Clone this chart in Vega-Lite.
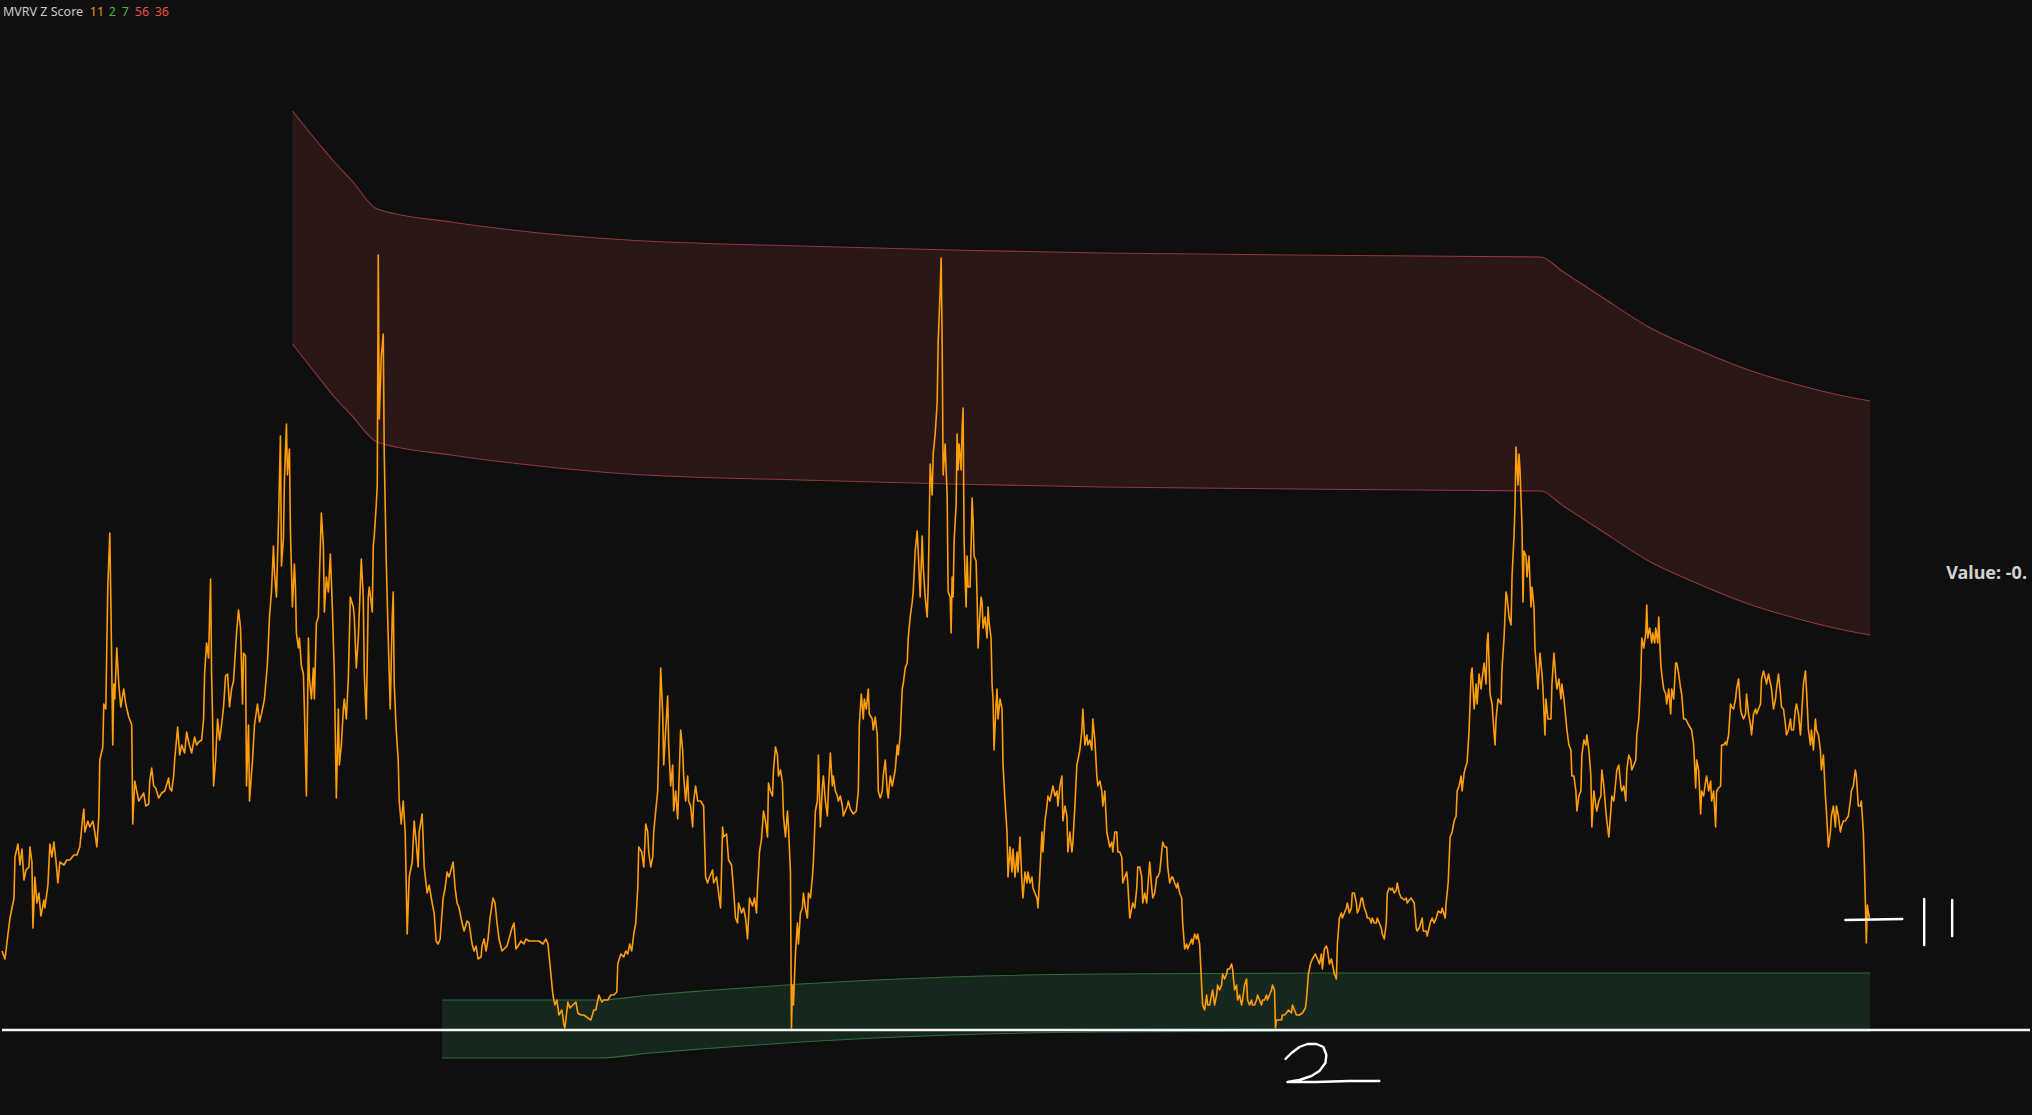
{
"$schema":"https://vega.github.io/schema/vega-lite/v6.json",
"width":2032,"height":1115,
"autosize":{"type":"fit","contains":"padding"},
"padding":0,
"background":"#0f0f0f",
"config":{"view":{"stroke":null}},
"datasets":{
"red":[{"t":291,"hi":919,"lo":686},{"t":317,"hi":887,"lo":653},{"t":333,"hi":868,"lo":633},{"t":350,"hi":850,"lo":615},{"t":376,"hi":821,"lo":588},{"t":450,"hi":808,"lo":575},{"t":520,"hi":799,"lo":566},{"t":627,"hi":790,"lo":556},{"t":800,"hi":784,"lo":550},{"t":950,"hi":780,"lo":546},{"t":1100,"hi":777,"lo":543},{"t":1420,"hi":774,"lo":540},{"t":1542,"hi":773,"lo":539},{"t":1563,"hi":759,"lo":525},{"t":1600,"hi":735,"lo":501},{"t":1650,"hi":703,"lo":469},{"t":1700,"hi":680,"lo":446},{"t":1750,"hi":660,"lo":426},{"t":1800,"hi":645,"lo":411},{"t":1850,"hi":633,"lo":399},{"t":1872,"hi":629,"lo":395}],
"green":[{"t":441,"hi":30,"lo":-28},{"t":597,"hi":30,"lo":-28},{"t":650,"hi":35,"lo":-23},{"t":700,"hi":39,"lo":-19},{"t":800,"hi":46,"lo":-12},{"t":950,"hi":53,"lo":-5},{"t":1100,"hi":56,"lo":-2},{"t":1320,"hi":57,"lo":-1},{"t":1872,"hi":57,"lo":-1}],
"ink":[{"s":"two","i":0,"t":1286,"v":-29},{"s":"two","i":1,"t":1292,"v":-23},{"s":"two","i":2,"t":1300,"v":-17},{"s":"two","i":3,"t":1308,"v":-14},{"s":"two","i":4,"t":1317,"v":-14},{"s":"two","i":5,"t":1324,"v":-17},{"s":"two","i":6,"t":1327,"v":-25},{"s":"two","i":7,"t":1326,"v":-33},{"s":"two","i":8,"t":1320,"v":-41},{"s":"two","i":9,"t":1312,"v":-46},{"s":"two","i":10,"t":1300,"v":-50},{"s":"two","i":11,"t":1288,"v":-52},{"s":"two","i":12,"t":1317,"v":-52},{"s":"two","i":13,"t":1350,"v":-51},{"s":"two","i":14,"t":1380,"v":-51},{"s":"dash","i":0,"t":1847,"v":110},{"s":"dash","i":1,"t":1904,"v":111},{"s":"bar1","i":0,"t":1926,"v":131},{"s":"bar1","i":1,"t":1926,"v":85},{"s":"bar2","i":0,"t":1954,"v":130},{"s":"bar2","i":1,"t":1954,"v":94}],
"head":[{"label":"MVRV Z Score","t":1,"v":1014,"role":"name"},{"label":"11","t":88,"v":1014,"role":"len"},{"label":"2","t":107,"v":1014,"role":"lowA"},{"label":"7","t":120,"v":1014,"role":"lowB"},{"label":"56","t":133,"v":1014,"role":"highA"},{"label":"36","t":153,"v":1014,"role":"highB"}],
"z":[{"t":0,"v":79},{"t":3,"v":71},{"t":6,"v":96},{"t":8,"v":112},{"t":12,"v":132},{"t":13,"v":173},{"t":16,"v":186},{"t":18,"v":165},{"t":20,"v":181},{"t":22,"v":150},
{"t":24,"v":160},{"t":27,"v":163},{"t":28,"v":183},{"t":30,"v":168},{"t":31,"v":102},{"t":33,"v":153},{"t":35,"v":127},{"t":37,"v":137},{"t":39,"v":114},{"t":42,"v":130},
{"t":43,"v":122},{"t":46,"v":145},{"t":48,"v":186},{"t":50,"v":173},{"t":52,"v":188},{"t":54,"v":170},{"t":56,"v":147},{"t":58,"v":168},{"t":62,"v":165},{"t":65,"v":170},
{"t":68,"v":170},{"t":72,"v":175},{"t":75,"v":175},{"t":78,"v":183},{"t":81,"v":214},{"t":82,"v":221},{"t":83,"v":198},{"t":86,"v":209},{"t":88,"v":203},{"t":91,"v":209},
{"t":93,"v":198},{"t":95,"v":183},{"t":97,"v":214},{"t":98,"v":270},{"t":101,"v":283},{"t":102,"v":326},{"t":104,"v":321},{"t":106,"v":443},{"t":108,"v":497},{"t":109,"v":433},
{"t":111,"v":285},{"t":112,"v":346},{"t":113,"v":331},{"t":115,"v":382},{"t":117,"v":346},{"t":119,"v":323},{"t":122,"v":341},{"t":124,"v":326},{"t":127,"v":313},{"t":130,"v":305},
{"t":131,"v":206},{"t":133,"v":249},{"t":135,"v":239},{"t":137,"v":229},{"t":139,"v":232},{"t":142,"v":237},{"t":144,"v":224},{"t":147,"v":226},{"t":148,"v":249},{"t":150,"v":262},
{"t":152,"v":244},{"t":154,"v":242},{"t":157,"v":232},{"t":160,"v":237},{"t":163,"v":239},{"t":167,"v":252},{"t":168,"v":242},{"t":170,"v":239},{"t":172,"v":254},{"t":173,"v":270},
{"t":176,"v":303},{"t":178,"v":275},{"t":180,"v":285},{"t":183,"v":277},{"t":185,"v":298},{"t":187,"v":288},{"t":190,"v":277},{"t":193,"v":293},{"t":195,"v":285},{"t":197,"v":288},
{"t":200,"v":290},{"t":202,"v":311},{"t":203,"v":356},{"t":205,"v":387},{"t":207,"v":372},{"t":208,"v":413},{"t":209,"v":451},{"t":210,"v":356},{"t":211,"v":311},{"t":212,"v":244},
{"t":214,"v":270},{"t":216,"v":311},{"t":218,"v":290},{"t":220,"v":305},{"t":222,"v":323},{"t":224,"v":354},{"t":226,"v":356},{"t":228,"v":323},{"t":230,"v":341},{"t":232,"v":349},
{"t":235,"v":397},{"t":237,"v":420},{"t":239,"v":402},{"t":241,"v":326},{"t":242,"v":377},{"t":244,"v":374},{"t":245,"v":244},{"t":247,"v":305},{"t":248,"v":229},{"t":251,"v":270},
{"t":253,"v":305},{"t":256,"v":326},{"t":258,"v":308},{"t":260,"v":316},{"t":263,"v":331},{"t":266,"v":367},{"t":268,"v":413},{"t":270,"v":438},{"t":272,"v":484},{"t":273,"v":458},
{"t":275,"v":433},{"t":277,"v":507},{"t":279,"v":594},{"t":280,"v":464},{"t":282,"v":492},{"t":283,"v":550},{"t":285,"v":606},{"t":286,"v":555},{"t":288,"v":581},{"t":289,"v":499},
{"t":291,"v":423},{"t":293,"v":466},{"t":294,"v":443},{"t":295,"v":397},{"t":297,"v":382},{"t":298,"v":392},{"t":300,"v":364},{"t":302,"v":356},{"t":303,"v":321},{"t":305,"v":234},
{"t":307,"v":392},{"t":308,"v":351},{"t":310,"v":331},{"t":312,"v":362},{"t":313,"v":331},{"t":315,"v":407},{"t":317,"v":413},{"t":318,"v":453},{"t":320,"v":517},{"t":322,"v":484},
{"t":323,"v":418},{"t":325,"v":453},{"t":327,"v":438},{"t":329,"v":476},{"t":331,"v":423},{"t":333,"v":356},{"t":335,"v":232},{"t":337,"v":321},{"t":338,"v":265},{"t":340,"v":285},
{"t":342,"v":321},{"t":343,"v":331},{"t":345,"v":311},{"t":347,"v":351},{"t":349,"v":433},{"t":352,"v":423},{"t":353,"v":413},{"t":355,"v":362},{"t":357,"v":392},{"t":360,"v":471},
{"t":362,"v":433},{"t":363,"v":356},{"t":365,"v":311},{"t":367,"v":433},{"t":368,"v":443},{"t":371,"v":418},{"t":372,"v":484},{"t":373,"v":494},{"t":375,"v":525},{"t":376,"v":545},
{"t":377,"v":775},{"t":378,"v":611},{"t":380,"v":673},{"t":382,"v":696},{"t":383,"v":576},{"t":385,"v":469},{"t":387,"v":392},{"t":388,"v":356},{"t":389,"v":321},{"t":391,"v":413},
{"t":392,"v":438},{"t":393,"v":346},{"t":395,"v":300},{"t":397,"v":270},{"t":398,"v":229},{"t":400,"v":206},{"t":402,"v":229},{"t":404,"v":198},{"t":406,"v":96},{"t":408,"v":153},
{"t":411,"v":168},{"t":413,"v":209},{"t":415,"v":188},{"t":417,"v":163},{"t":418,"v":198},{"t":421,"v":216},{"t":423,"v":163},{"t":426,"v":137},{"t":428,"v":145},{"t":431,"v":127},
{"t":433,"v":117},{"t":435,"v":89},{"t":437,"v":86},{"t":439,"v":91},{"t":442,"v":132},{"t":444,"v":142},{"t":446,"v":158},{"t":448,"v":153},{"t":452,"v":168},{"t":454,"v":142},
{"t":456,"v":127},{"t":458,"v":122},{"t":461,"v":107},{"t":463,"v":99},{"t":466,"v":109},{"t":468,"v":107},{"t":471,"v":86},{"t":473,"v":79},{"t":475,"v":84},{"t":477,"v":71},
{"t":480,"v":73},
{"t":481,"v":84},{"t":483,"v":91},{"t":485,"v":79},{"t":487,"v":91},{"t":489,"v":112},{"t":492,"v":132},{"t":494,"v":127},{"t":496,"v":107},{"t":498,"v":91},{"t":501,"v":79},
{"t":503,"v":81},{"t":506,"v":84},{"t":508,"v":91},{"t":511,"v":102},{"t":513,"v":107},{"t":515,"v":81},{"t":517,"v":84},{"t":520,"v":89},{"t":523,"v":86},{"t":525,"v":91},
{"t":528,"v":89},{"t":532,"v":89},{"t":535,"v":89},{"t":538,"v":89},{"t":542,"v":86},{"t":545,"v":91},{"t":547,"v":86},{"t":549,"v":66},{"t":552,"v":35},{"t":554,"v":25},
{"t":556,"v":30},{"t":558,"v":15},{"t":561,"v":20},{"t":563,"v":5},{"t":564,"v":2},{"t":567,"v":28},{"t":569,"v":22},{"t":572,"v":25},{"t":575,"v":28},{"t":577,"v":17},
{"t":580,"v":15},{"t":583,"v":15},{"t":587,"v":12},{"t":590,"v":10},{"t":593,"v":20},{"t":595,"v":20},{"t":598,"v":35},{"t":601,"v":28},{"t":603,"v":30},{"t":607,"v":30},
{"t":610,"v":35},{"t":613,"v":35},{"t":616,"v":38},{"t":617,"v":66},{"t":620,"v":76},{"t":623,"v":73},{"t":625,"v":79},{"t":627,"v":76},{"t":629,"v":86},{"t":631,"v":79},
{"t":633,"v":96},{"t":635,"v":107},{"t":637,"v":142},{"t":638,"v":183},{"t":641,"v":178},{"t":643,"v":163},{"t":644,"v":183},{"t":645,"v":206},{"t":647,"v":198},{"t":648,"v":178},
{"t":650,"v":163},{"t":652,"v":173},{"t":653,"v":198},{"t":655,"v":219},{"t":657,"v":239},{"t":658,"v":280},{"t":660,"v":362},{"t":662,"v":316},{"t":663,"v":265},{"t":665,"v":300},
{"t":667,"v":334},{"t":668,"v":285},{"t":670,"v":244},{"t":672,"v":265},{"t":673,"v":219},{"t":675,"v":239},{"t":677,"v":211},{"t":678,"v":239},{"t":680,"v":300},{"t":682,"v":280},
{"t":683,"v":254},{"t":685,"v":229},{"t":687,"v":254},{"t":688,"v":229},{"t":690,"v":224},{"t":692,"v":203},{"t":693,"v":229},{"t":695,"v":244},{"t":697,"v":229},{"t":700,"v":229},
{"t":703,"v":224},{"t":705,"v":153},{"t":707,"v":147},{"t":709,"v":153},{"t":712,"v":160},{"t":713,"v":147},{"t":716,"v":153},{"t":718,"v":137},{"t":720,"v":122},{"t":722,"v":203},
{"t":723,"v":193},{"t":726,"v":196},{"t":728,"v":170},{"t":731,"v":165},{"t":733,"v":140},{"t":735,"v":112},{"t":737,"v":107},{"t":738,"v":127},{"t":741,"v":117},{"t":743,"v":122},
{"t":745,"v":112},{"t":747,"v":91},{"t":749,"v":132},{"t":752,"v":124},{"t":754,"v":132},{"t":756,"v":117},{"t":757,"v":142},{"t":759,"v":178},{"t":761,"v":191},{"t":763,"v":219},
{"t":765,"v":209},{"t":767,"v":193},{"t":768,"v":247},{"t":770,"v":239},{"t":772,"v":234},{"t":773,"v":260},{"t":775,"v":283},{"t":777,"v":275},{"t":778,"v":254},{"t":780,"v":260},
{"t":782,"v":247},{"t":783,"v":214},{"t":785,"v":193},{"t":787,"v":219},{"t":788,"v":203},{"t":790,"v":158},{"t":791,"v":2},{"t":792,"v":45},{"t":793,"v":25},{"t":795,"v":76},
{"t":797,"v":107},{"t":798,"v":86},{"t":800,"v":117},{"t":802,"v":122},{"t":803,"v":137},{"t":805,"v":122},{"t":807,"v":112},{"t":808,"v":137},{"t":810,"v":132},{"t":812,"v":153},
{"t":813,"v":168},{"t":815,"v":219},{"t":817,"v":229},{"t":818,"v":275},{"t":820,"v":203},{"t":822,"v":244},{"t":823,"v":254},{"t":825,"v":229},{"t":827,"v":214},{"t":828,"v":239},
{"t":830,"v":277},{"t":832,"v":244},{"t":833,"v":254},{"t":835,"v":239},{"t":837,"v":234},{"t":838,"v":229},{"t":840,"v":234},{"t":842,"v":224},{"t":843,"v":214},{"t":845,"v":219},
{"t":847,"v":224},{"t":848,"v":229},{"t":850,"v":221},{"t":853,"v":216},{"t":856,"v":219},{"t":858,"v":239},{"t":859,"v":305},{"t":861,"v":336},{"t":863,"v":311},{"t":864,"v":331},
{"t":866,"v":321},{"t":868,"v":341},{"t":869,"v":316},{"t":872,"v":311},{"t":873,"v":300},{"t":875,"v":313},{"t":877,"v":295},{"t":878,"v":239},{"t":880,"v":232},{"t":882,"v":239},
{"t":883,"v":254},{"t":885,"v":270},{"t":887,"v":239},{"t":888,"v":232},{"t":890,"v":254},{"t":892,"v":244},{"t":893,"v":249},{"t":895,"v":260},{"t":897,"v":285},{"t":898,"v":275},
{"t":900,"v":295},{"t":902,"v":341},{"t":903,"v":346},{"t":905,"v":362},{"t":907,"v":367},{"t":908,"v":392},{"t":910,"v":413},{"t":912,"v":428},{"t":913,"v":438},{"t":915,"v":479},
{"t":917,"v":499},{"t":918,"v":479},{"t":920,"v":433},{"t":922,"v":494},{"t":923,"v":464},{"t":925,"v":433},{"t":927,"v":413},{"t":928,"v":443},{"t":930,"v":566},{"t":932,"v":535},
{"t":933,"v":576},{"t":935,"v":596},{"t":937,"v":627},{"t":938,"v":688},{"t":940,"v":739},{"t":941,"v":772},{"t":942,"v":688},{"t":943,"v":555},{"t":945,"v":586},{"t":947,"v":535},
{"t":948,"v":438},{"t":950,"v":433},
{"t":951,"v":397},{"t":952,"v":453},{"t":953,"v":433},{"t":954,"v":489},{"t":956,"v":525},{"t":957,"v":596},{"t":958,"v":560},{"t":959,"v":586},{"t":961,"v":560},{"t":962,"v":601},
{"t":963,"v":622},{"t":964,"v":489},{"t":965,"v":453},{"t":966,"v":423},{"t":967,"v":474},{"t":968,"v":443},{"t":970,"v":443},{"t":971,"v":484},{"t":972,"v":532},{"t":973,"v":510},
{"t":974,"v":474},{"t":976,"v":469},{"t":977,"v":433},{"t":978,"v":382},{"t":979,"v":402},{"t":981,"v":433},{"t":982,"v":428},{"t":983,"v":402},{"t":985,"v":413},{"t":987,"v":392},
{"t":988,"v":423},{"t":989,"v":408},{"t":991,"v":392},{"t":992,"v":346},{"t":993,"v":331},{"t":994,"v":280},{"t":996,"v":326},{"t":997,"v":341},{"t":998,"v":311},{"t":1000,"v":331},
{"t":1002,"v":321},{"t":1003,"v":265},{"t":1005,"v":229},{"t":1007,"v":198},{"t":1008,"v":153},{"t":1010,"v":183},{"t":1012,"v":158},{"t":1013,"v":181},{"t":1015,"v":153},{"t":1017,"v":178},
{"t":1018,"v":158},{"t":1020,"v":193},{"t":1022,"v":147},{"t":1023,"v":132},{"t":1025,"v":158},{"t":1027,"v":147},{"t":1028,"v":158},{"t":1030,"v":147},{"t":1032,"v":153},{"t":1033,"v":142},
{"t":1035,"v":137},{"t":1037,"v":132},{"t":1038,"v":122},{"t":1040,"v":158},{"t":1042,"v":198},{"t":1043,"v":178},{"t":1045,"v":209},{"t":1047,"v":224},{"t":1048,"v":234},{"t":1050,"v":229},
{"t":1052,"v":239},{"t":1053,"v":244},{"t":1055,"v":234},{"t":1057,"v":239},{"t":1058,"v":224},{"t":1060,"v":244},{"t":1062,"v":254},{"t":1063,"v":209},{"t":1065,"v":224},{"t":1067,"v":214},
{"t":1068,"v":178},{"t":1070,"v":198},{"t":1072,"v":178},{"t":1073,"v":188},{"t":1075,"v":224},{"t":1077,"v":265},{"t":1078,"v":270},{"t":1080,"v":280},{"t":1082,"v":300},{"t":1083,"v":321},
{"t":1085,"v":285},{"t":1087,"v":295},{"t":1088,"v":285},{"t":1090,"v":290},{"t":1092,"v":280},{"t":1093,"v":311},{"t":1095,"v":290},{"t":1097,"v":254},{"t":1098,"v":244},{"t":1100,"v":249},
{"t":1102,"v":239},{"t":1103,"v":224},{"t":1105,"v":239},{"t":1107,"v":198},{"t":1108,"v":193},{"t":1110,"v":183},{"t":1112,"v":188},{"t":1113,"v":178},{"t":1115,"v":198},{"t":1117,"v":198},
{"t":1118,"v":178},{"t":1120,"v":178},{"t":1122,"v":173},{"t":1123,"v":147},{"t":1125,"v":153},{"t":1127,"v":158},{"t":1128,"v":147},{"t":1130,"v":112},{"t":1132,"v":122},{"t":1133,"v":127},
{"t":1135,"v":122},{"t":1137,"v":142},{"t":1138,"v":163},{"t":1140,"v":163},{"t":1142,"v":153},{"t":1143,"v":127},{"t":1145,"v":137},{"t":1147,"v":127},{"t":1148,"v":142},{"t":1150,"v":168},
{"t":1152,"v":142},{"t":1153,"v":132},{"t":1155,"v":137},{"t":1157,"v":153},{"t":1158,"v":153},{"t":1160,"v":158},{"t":1162,"v":178},{"t":1163,"v":188},{"t":1165,"v":183},{"t":1167,"v":183},
{"t":1168,"v":163},{"t":1170,"v":147},{"t":1172,"v":153},{"t":1173,"v":153},{"t":1175,"v":147},{"t":1177,"v":142},{"t":1178,"v":147},{"t":1180,"v":137},{"t":1182,"v":132},{"t":1183,"v":107},
{"t":1185,"v":81},{"t":1187,"v":86},{"t":1188,"v":81},{"t":1190,"v":86},{"t":1192,"v":91},{"t":1193,"v":86},{"t":1195,"v":96},{"t":1197,"v":91},{"t":1198,"v":96},{"t":1200,"v":86},
{"t":1202,"v":45},{"t":1203,"v":25},{"t":1205,"v":20},{"t":1207,"v":35},{"t":1208,"v":25},{"t":1210,"v":25},{"t":1212,"v":35},{"t":1213,"v":40},{"t":1215,"v":25},{"t":1217,"v":35},
{"t":1218,"v":45},{"t":1220,"v":40},{"t":1222,"v":45},{"t":1223,"v":56},{"t":1225,"v":51},{"t":1227,"v":56},{"t":1228,"v":61},{"t":1230,"v":61},{"t":1232,"v":66},{"t":1233,"v":61},
{"t":1235,"v":40},{"t":1237,"v":45},{"t":1238,"v":30},{"t":1240,"v":35},{"t":1242,"v":25},{"t":1243,"v":30},{"t":1245,"v":45},{"t":1247,"v":51},{"t":1248,"v":30},{"t":1250,"v":25},
{"t":1252,"v":30},{"t":1253,"v":25},{"t":1255,"v":25},{"t":1257,"v":30},{"t":1258,"v":35},{"t":1260,"v":30},{"t":1262,"v":25},{"t":1263,"v":30},{"t":1265,"v":30},{"t":1267,"v":35},
{"t":1268,"v":30},{"t":1270,"v":35},{"t":1272,"v":40},{"t":1273,"v":45},{"t":1275,"v":40},{"t":1276,"v":2},{"t":1277,"v":10},{"t":1279,"v":10},{"t":1282,"v":10},{"t":1283,"v":15},
{"t":1285,"v":15},{"t":1287,"v":17},{"t":1289,"v":20},{"t":1292,"v":17},{"t":1293,"v":25},{"t":1295,"v":20},{"t":1297,"v":15},{"t":1300,"v":15},{"t":1303,"v":17},{"t":1306,"v":22},
{"t":1307,"v":30},{"t":1309,"v":56},{"t":1311,"v":66},{"t":1313,"v":71},{"t":1316,"v":76},{"t":1318,"v":71},{"t":1320,"v":66},{"t":1322,"v":76},{"t":1323,"v":61},{"t":1325,"v":81},
{"t":1327,"v":84},{"t":1328,"v":81},{"t":1330,"v":66},{"t":1332,"v":71},{"t":1333,"v":66},{"t":1335,"v":56},{"t":1337,"v":51},{"t":1338,"v":86},{"t":1340,"v":112},{"t":1342,"v":117},
{"t":1343,"v":112},{"t":1345,"v":117},{"t":1347,"v":122},{"t":1348,"v":127},{"t":1350,"v":117},{"t":1352,"v":122},{"t":1353,"v":137},{"t":1355,"v":137},{"t":1357,"v":127},{"t":1358,"v":117},
{"t":1360,"v":122},{"t":1362,"v":132},{"t":1363,"v":132},{"t":1365,"v":122},{"t":1367,"v":117},{"t":1368,"v":112},{"t":1370,"v":112},{"t":1372,"v":107},{"t":1373,"v":112},{"t":1375,"v":107},
{"t":1377,"v":107},{"t":1378,"v":112},{"t":1380,"v":107},{"t":1382,"v":102},{"t":1383,"v":96},{"t":1385,"v":91},{"t":1387,"v":107},{"t":1388,"v":137},{"t":1390,"v":142},{"t":1392,"v":140},
{"t":1393,"v":142},{"t":1395,"v":137},{"t":1397,"v":140},{"t":1398,"v":147},{"t":1400,"v":137},{"t":1402,"v":132},{"t":1403,"v":132},{"t":1405,"v":130},{"t":1407,"v":132},{"t":1408,"v":127},
{"t":1410,"v":130},{"t":1412,"v":132},{"t":1413,"v":130},{"t":1415,"v":127},{"t":1417,"v":102},{"t":1418,"v":99},{"t":1420,"v":102},
{"t":1423,"v":112},{"t":1424,"v":99},{"t":1427,"v":99},{"t":1428,"v":94},{"t":1431,"v":107},{"t":1433,"v":112},{"t":1435,"v":107},{"t":1437,"v":112},{"t":1439,"v":119},{"t":1442,"v":117},
{"t":1443,"v":122},{"t":1446,"v":112},{"t":1447,"v":127},{"t":1449,"v":147},{"t":1451,"v":193},{"t":1453,"v":198},{"t":1455,"v":209},{"t":1457,"v":214},{"t":1458,"v":239},{"t":1460,"v":244},
{"t":1462,"v":254},{"t":1463,"v":239},{"t":1465,"v":257},{"t":1467,"v":265},{"t":1468,"v":267},{"t":1470,"v":300},{"t":1472,"v":356},{"t":1473,"v":362},{"t":1475,"v":321},{"t":1477,"v":346},
{"t":1478,"v":326},{"t":1480,"v":356},{"t":1482,"v":341},{"t":1483,"v":351},{"t":1485,"v":367},{"t":1487,"v":346},{"t":1488,"v":387},{"t":1489,"v":397},{"t":1491,"v":336},{"t":1493,"v":326},
{"t":1494,"v":311},{"t":1496,"v":285},{"t":1497,"v":311},{"t":1499,"v":331},{"t":1502,"v":326},{"t":1503,"v":362},{"t":1505,"v":392},{"t":1507,"v":438},{"t":1508,"v":433},{"t":1510,"v":413},
{"t":1512,"v":405},{"t":1513,"v":453},{"t":1515,"v":494},{"t":1516,"v":525},{"t":1517,"v":583},{"t":1519,"v":545},{"t":1520,"v":576},{"t":1521,"v":560},{"t":1523,"v":504},{"t":1524,"v":428},
{"t":1525,"v":479},{"t":1527,"v":474},{"t":1528,"v":453},{"t":1530,"v":474},{"t":1532,"v":423},{"t":1533,"v":443},{"t":1535,"v":423},{"t":1536,"v":382},{"t":1538,"v":356},{"t":1539,"v":341},
{"t":1541,"v":377},{"t":1543,"v":356},{"t":1544,"v":341},{"t":1546,"v":295},{"t":1547,"v":331},{"t":1549,"v":311},{"t":1552,"v":311},{"t":1553,"v":346},{"t":1555,"v":377},{"t":1557,"v":351},
{"t":1558,"v":341},{"t":1560,"v":351},{"t":1562,"v":331},{"t":1563,"v":346},{"t":1565,"v":331},{"t":1567,"v":311},{"t":1568,"v":300},{"t":1570,"v":285},{"t":1572,"v":280},{"t":1573,"v":254},
{"t":1575,"v":254},{"t":1577,"v":239},{"t":1578,"v":219},{"t":1580,"v":234},{"t":1582,"v":239},{"t":1583,"v":275},{"t":1585,"v":290},{"t":1587,"v":285},{"t":1588,"v":295},{"t":1590,"v":280},
{"t":1592,"v":254},{"t":1593,"v":203},{"t":1595,"v":239},{"t":1597,"v":224},{"t":1598,"v":219},{"t":1600,"v":229},{"t":1602,"v":234},{"t":1603,"v":260},{"t":1605,"v":244},{"t":1607,"v":219},
{"t":1608,"v":209},{"t":1610,"v":193},{"t":1612,"v":219},{"t":1613,"v":234},{"t":1615,"v":229},{"t":1617,"v":249},{"t":1618,"v":260},{"t":1620,"v":265},{"t":1622,"v":244},{"t":1623,"v":239},
{"t":1625,"v":244},{"t":1627,"v":229},{"t":1628,"v":260},{"t":1630,"v":275},{"t":1632,"v":270},{"t":1633,"v":260},{"t":1635,"v":265},{"t":1637,"v":270},{"t":1638,"v":295},{"t":1640,"v":311},
{"t":1642,"v":351},{"t":1643,"v":392},{"t":1645,"v":382},{"t":1647,"v":397},{"t":1648,"v":425},{"t":1649,"v":392},{"t":1651,"v":402},{"t":1653,"v":387},{"t":1654,"v":397},{"t":1656,"v":387},
{"t":1657,"v":402},{"t":1659,"v":387},{"t":1660,"v":413},{"t":1662,"v":367},{"t":1663,"v":356},{"t":1665,"v":341},{"t":1667,"v":336},{"t":1668,"v":326},{"t":1670,"v":341},{"t":1672,"v":316},
{"t":1673,"v":341},{"t":1675,"v":331},{"t":1677,"v":367},{"t":1678,"v":367},{"t":1680,"v":356},{"t":1682,"v":341},{"t":1683,"v":336},{"t":1685,"v":311},{"t":1687,"v":311},{"t":1690,"v":305},
{"t":1693,"v":300},{"t":1695,"v":285},{"t":1697,"v":242},{"t":1698,"v":270},{"t":1700,"v":260},{"t":1702,"v":216},{"t":1703,"v":239},{"t":1705,"v":234},{"t":1707,"v":249},{"t":1708,"v":254},
{"t":1710,"v":239},{"t":1712,"v":249},{"t":1713,"v":229},{"t":1715,"v":239},{"t":1717,"v":203},{"t":1718,"v":239},{"t":1720,"v":242},{"t":1722,"v":244},{"t":1723,"v":285},{"t":1725,"v":285},
{"t":1727,"v":288},{"t":1728,"v":285},{"t":1730,"v":295},{"t":1732,"v":326},{"t":1733,"v":323},{"t":1735,"v":321},{"t":1737,"v":331},{"t":1738,"v":341},{"t":1740,"v":351},{"t":1742,"v":321},
{"t":1743,"v":316},{"t":1745,"v":311},{"t":1747,"v":316},{"t":1748,"v":336},{"t":1750,"v":316},{"t":1752,"v":305},{"t":1753,"v":295},{"t":1755,"v":316},{"t":1757,"v":321},{"t":1758,"v":316},
{"t":1760,"v":321},{"t":1762,"v":326},{"t":1763,"v":351},{"t":1765,"v":359},{"t":1767,"v":351},{"t":1768,"v":346},{"t":1770,"v":356},{"t":1772,"v":346},{"t":1773,"v":341},{"t":1775,"v":321},
{"t":1777,"v":331},{"t":1778,"v":341},{"t":1780,"v":356},{"t":1782,"v":336},{"t":1783,"v":323},{"t":1785,"v":321},{"t":1787,"v":305},{"t":1788,"v":295},{"t":1790,"v":300},{"t":1792,"v":311},
{"t":1793,"v":300},{"t":1795,"v":300},{"t":1797,"v":321},{"t":1798,"v":326},{"t":1800,"v":316},{"t":1802,"v":295},{"t":1803,"v":311},{"t":1805,"v":346},{"t":1807,"v":359},{"t":1808,"v":341},
{"t":1810,"v":300},{"t":1812,"v":285},{"t":1813,"v":300},{"t":1815,"v":280},{"t":1817,"v":311},{"t":1818,"v":300},{"t":1820,"v":295},{"t":1822,"v":280},{"t":1823,"v":260},{"t":1825,"v":275},
{"t":1827,"v":234},{"t":1828,"v":219},{"t":1830,"v":183},{"t":1832,"v":198},{"t":1833,"v":214},{"t":1835,"v":224},{"t":1837,"v":203},{"t":1838,"v":224},{"t":1840,"v":214},{"t":1842,"v":198},
{"t":1843,"v":203},{"t":1845,"v":209},{"t":1847,"v":209},{"t":1848,"v":211},{"t":1850,"v":214},{"t":1852,"v":229},{"t":1853,"v":239},{"t":1855,"v":244},{"t":1857,"v":260},{"t":1858,"v":254},
{"t":1860,"v":224},{"t":1862,"v":224},{"t":1863,"v":229},{"t":1865,"v":198},{"t":1866,"v":168},{"t":1867,"v":130},{"t":1868,"v":87},{"t":1869,"v":125},{"t":1870,"v":118},{"t":1871,"v":112}]
},
"encoding":{
"x":{"field":"t","type":"quantitative","scale":{"domain":[0,2032],"nice":false,"zero":false},"axis":null},
"y":{"field":"v","type":"quantitative","scale":{"domain":[-85,1030],"nice":false,"zero":false},"axis":null}
},
"layer":[
{"data":{"name":"red"},"mark":{"type":"area","color":"#2a1718","opacity":1,"interpolate":"monotone"},"encoding":{"y":{"field":"hi","type":"quantitative"},"y2":{"field":"lo"}}},
{"data":{"name":"red"},"mark":{"type":"line","color":"#93363a","strokeWidth":1.1,"interpolate":"monotone"},"encoding":{"y":{"field":"hi","type":"quantitative"}}},
{"data":{"name":"red"},"mark":{"type":"line","color":"#93363a","strokeWidth":1.1,"interpolate":"monotone"},"encoding":{"y":{"field":"lo","type":"quantitative"}}},
{"data":{"name":"green"},"mark":{"type":"area","color":"#16281d","opacity":1,"interpolate":"monotone"},"encoding":{"y":{"field":"hi","type":"quantitative"},"y2":{"field":"lo"}}},
{"data":{"name":"green"},"mark":{"type":"line","color":"#2f6b3b","strokeWidth":1.1,"interpolate":"monotone"},"encoding":{"y":{"field":"hi","type":"quantitative"}}},
{"data":{"name":"green"},"mark":{"type":"line","color":"#2f6b3b","strokeWidth":1.1,"interpolate":"monotone"},"encoding":{"y":{"field":"lo","type":"quantitative"}}},
{"data":{"values":[{"v":0}]},"mark":{"type":"rule","color":"#f4f7f4","strokeWidth":2.6},"encoding":{"x":null,"y":{"field":"v","type":"quantitative"}}},
{"data":{"name":"z"},"mark":{"type":"line","color":"#ff9d0a","strokeWidth":1.6,"strokeJoin":"round"},"encoding":{}},
{"data":{"name":"ink"},"mark":{"type":"line","color":"#ffffff","strokeWidth":2.4,"strokeCap":"round","strokeJoin":"round"},"encoding":{"detail":{"field":"s"},"order":{"field":"i","type":"quantitative"}}},
{"data":{"name":"head"},"mark":{"type":"text","align":"left","baseline":"alphabetic","font":"Noto Sans","fontSize":12.5},"encoding":{"text":{"field":"label"},"color":{"field":"role","type":"nominal","legend":null,"scale":{"domain":["name","len","lowA","lowB","highA","highB"],"range":["#cacaca","#e8940c","#4caf50","#4caf50","#ef4b4b","#ef4b4b"]}}}},
{"data":{"values":[{"label":"Value: -0.","t":1948,"v":451}]},"mark":{"type":"text","align":"left","baseline":"alphabetic","font":"Noto Sans","fontSize":18,"fontWeight":"bold","color":"#d2d2d2","clip":true},"encoding":{"text":{"field":"label"}}}
]
}
